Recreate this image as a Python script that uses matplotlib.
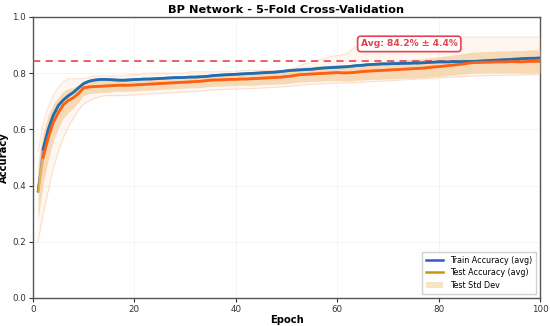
import numpy as np
import matplotlib
matplotlib.use("Agg")
import matplotlib.pyplot as plt

epochs = list(range(1, 101))

train_avg = [
    0.38, 0.53, 0.60, 0.65, 0.685, 0.705, 0.72, 0.732, 0.748, 0.763,
    0.771, 0.775, 0.777, 0.778, 0.777, 0.776, 0.775, 0.775, 0.776, 0.777,
    0.778, 0.779, 0.779, 0.780, 0.781, 0.782, 0.783, 0.784, 0.784, 0.785,
    0.786, 0.786, 0.787, 0.788, 0.790, 0.792, 0.793, 0.794, 0.795, 0.796,
    0.797, 0.798, 0.799, 0.800, 0.801, 0.802, 0.803, 0.804, 0.806, 0.808,
    0.810, 0.811, 0.812, 0.813, 0.814, 0.816, 0.818, 0.819, 0.820, 0.821,
    0.822, 0.823, 0.825, 0.827, 0.828, 0.830, 0.831, 0.832, 0.833, 0.833,
    0.834, 0.834, 0.835, 0.835, 0.836, 0.836, 0.837, 0.838, 0.839, 0.840,
    0.840, 0.840, 0.841, 0.841, 0.841, 0.842, 0.842, 0.843, 0.844, 0.845,
    0.846, 0.847, 0.848, 0.849, 0.850, 0.851, 0.852, 0.853, 0.853, 0.854,
]

test_avg = [
    0.38, 0.50, 0.57, 0.625, 0.66, 0.688, 0.703, 0.713, 0.728, 0.748,
    0.751, 0.752, 0.753, 0.754, 0.755, 0.756, 0.757, 0.757, 0.757, 0.758,
    0.759, 0.760, 0.761, 0.762, 0.763, 0.764, 0.765, 0.766, 0.767, 0.768,
    0.769, 0.770, 0.771, 0.773, 0.775, 0.776, 0.776, 0.777, 0.778, 0.778,
    0.779, 0.779, 0.780, 0.781, 0.782, 0.783, 0.784, 0.785, 0.786, 0.788,
    0.790, 0.793, 0.795, 0.796, 0.797, 0.798, 0.799, 0.800, 0.801, 0.802,
    0.801, 0.801, 0.802, 0.804, 0.806, 0.807, 0.808, 0.809, 0.810, 0.811,
    0.812, 0.813, 0.814, 0.815, 0.816, 0.817, 0.818, 0.820, 0.822, 0.823,
    0.825, 0.827, 0.829, 0.831, 0.833, 0.836, 0.838, 0.838, 0.839, 0.839,
    0.840, 0.840, 0.840, 0.841, 0.841, 0.840, 0.841, 0.842, 0.842, 0.842,
]

test_std = [
    0.10, 0.09, 0.08, 0.065, 0.055, 0.048, 0.042, 0.036, 0.030, 0.026,
    0.024, 0.023, 0.022, 0.022, 0.022, 0.021, 0.021, 0.021, 0.021, 0.021,
    0.021, 0.021, 0.021, 0.021, 0.021, 0.021, 0.021, 0.021, 0.021, 0.021,
    0.021, 0.021, 0.022, 0.022, 0.022, 0.022, 0.022, 0.022, 0.022, 0.022,
    0.022, 0.022, 0.023, 0.023, 0.023, 0.023, 0.024, 0.024, 0.024, 0.025,
    0.025, 0.025, 0.026, 0.026, 0.026, 0.027, 0.027, 0.027, 0.028, 0.028,
    0.028, 0.029, 0.029, 0.029, 0.030, 0.030, 0.030, 0.031, 0.031, 0.031,
    0.032, 0.032, 0.032, 0.033, 0.033, 0.033, 0.034, 0.034, 0.034, 0.035,
    0.035, 0.035, 0.036, 0.036, 0.036, 0.037, 0.037, 0.037, 0.038, 0.038,
    0.038, 0.039, 0.039, 0.039, 0.040, 0.040, 0.040, 0.041, 0.041, 0.041,
]

fold_max = [
    0.52, 0.62, 0.68, 0.72, 0.75, 0.77, 0.78, 0.78, 0.78, 0.78,
    0.785, 0.79, 0.79, 0.79, 0.79, 0.79, 0.79, 0.79, 0.795, 0.795,
    0.795, 0.80, 0.80, 0.80, 0.80, 0.80, 0.80, 0.80, 0.80, 0.80,
    0.805, 0.805, 0.805, 0.805, 0.805, 0.805, 0.805, 0.805, 0.805, 0.805,
    0.81, 0.81, 0.81, 0.81, 0.81, 0.81, 0.81, 0.81, 0.81, 0.81,
    0.815, 0.82, 0.83, 0.835, 0.84, 0.845, 0.85, 0.855, 0.86, 0.862,
    0.865, 0.87, 0.885, 0.90, 0.915, 0.925, 0.928, 0.928, 0.928, 0.928,
    0.928, 0.928, 0.928, 0.928, 0.928, 0.928, 0.928, 0.928, 0.928, 0.928,
    0.928, 0.928, 0.928, 0.928, 0.928, 0.928, 0.928, 0.928, 0.928, 0.928,
    0.928, 0.928, 0.928, 0.928, 0.928, 0.928, 0.928, 0.928, 0.928, 0.928,
]

fold_min = [
    0.20, 0.30, 0.38, 0.46, 0.52, 0.57, 0.61, 0.64, 0.67, 0.69,
    0.70, 0.71, 0.715, 0.72, 0.72, 0.72, 0.72, 0.72, 0.722, 0.722,
    0.724, 0.725, 0.726, 0.727, 0.728, 0.729, 0.730, 0.731, 0.732, 0.733,
    0.734, 0.735, 0.736, 0.738, 0.740, 0.741, 0.741, 0.742, 0.743, 0.743,
    0.744, 0.744, 0.745, 0.746, 0.747, 0.748, 0.749, 0.750, 0.751, 0.752,
    0.754, 0.756, 0.758, 0.759, 0.760, 0.761, 0.762, 0.763, 0.764, 0.765,
    0.765, 0.765, 0.766, 0.767, 0.768, 0.769, 0.770, 0.771, 0.772, 0.773,
    0.774, 0.775, 0.776, 0.777, 0.778, 0.779, 0.780, 0.781, 0.782, 0.783,
    0.784, 0.785, 0.786, 0.787, 0.788, 0.789, 0.790, 0.790, 0.791, 0.791,
    0.792, 0.792, 0.792, 0.793, 0.793, 0.793, 0.794, 0.794, 0.795, 0.795,
]

avg_acc = 0.842
avg_std = 0.044
title = "BP Network - 5-Fold Cross-Validation"

ep = np.array(epochs)
tr = np.array(train_avg)
te = np.array(test_avg)
sd = np.array(test_std)
fmax = np.array(fold_max)
fmin = np.array(fold_min)

fig = plt.figure(figsize=(5.5, 3.26), dpi=100)
ax = fig.add_axes([0.06, 0.086, 0.922, 0.862])

# legend-colored base layers
ax.plot(ep, tr, color="#3A55D6", lw=1.8, label="Train Accuracy (avg)", zorder=2)
ax.plot(ep, te, color="#C8960C", lw=1.8, label="Test Accuracy (avg)", zorder=2)
ax.fill_between(ep, te - sd, te + sd, color="#F0DCA8", alpha=0.7,
                label="Test Std Dev", zorder=1, lw=0)

# fold spread overlay
ax.fill_between(ep, fmin, fmax, color="#FDD5B8", alpha=0.2, lw=0, zorder=3)
ax.fill_between(ep, te - sd, te + sd, color="#FDCDA8", alpha=0.4, lw=0, zorder=3)
ax.plot(ep, fmax, color="#FBC9A8", lw=0.7, alpha=0.6, zorder=3)
ax.plot(ep, fmin, color="#FBC9A8", lw=0.7, alpha=0.6, zorder=3)

# visible average lines
ax.plot(ep[1:], tr[1:], color="#1F6FAE", lw=2.0, zorder=5)
ax.plot(ep[1:], te[1:], color="#FF5E14", lw=2.0, zorder=5)

ax.axhline(avg_acc, color="#E8404E", ls=(0, (4, 3)), lw=1.3, alpha=0.9, zorder=4)
ax.text(74.2, 0.904, f"Avg: {avg_acc*100:.1f}% ± {avg_std*100:.1f}%",
        ha="center", va="center", fontsize=6.6, fontweight="bold", color="#E8404E",
        bbox=dict(boxstyle="round,pad=0.35", fc="white", ec="#E8404E", lw=1.2),
        zorder=6)

ax.set_xlim(0, 100)
ax.set_ylim(0, 1.0)
ax.set_xticks([0, 20, 40, 60, 80, 100])
ax.set_yticks([0.0, 0.2, 0.4, 0.6, 0.8, 1.0])
ax.tick_params(labelsize=6.3, length=3, pad=2, colors="#333333")
ax.grid(True, color="#e6e6e6", lw=0.5, alpha=0.6)
ax.set_axisbelow(True)
for s in ax.spines.values():
    s.set_color("#555555")
    s.set_linewidth(1.0)

ax.set_xlabel("Epoch", fontsize=7.2, fontweight="bold", labelpad=1)
ax.set_ylabel("Accuracy", fontsize=7.2, fontweight="bold", labelpad=2)
ax.set_title(title, fontsize=8.2, fontweight="bold", pad=3)

leg = ax.legend(loc="lower right", fontsize=5.8, frameon=True, framealpha=0.9,
                fancybox=False, edgecolor="#cccccc", borderpad=0.5,
                handlelength=2.2, labelspacing=0.45)

fig.savefig("out.png", dpi=100)
